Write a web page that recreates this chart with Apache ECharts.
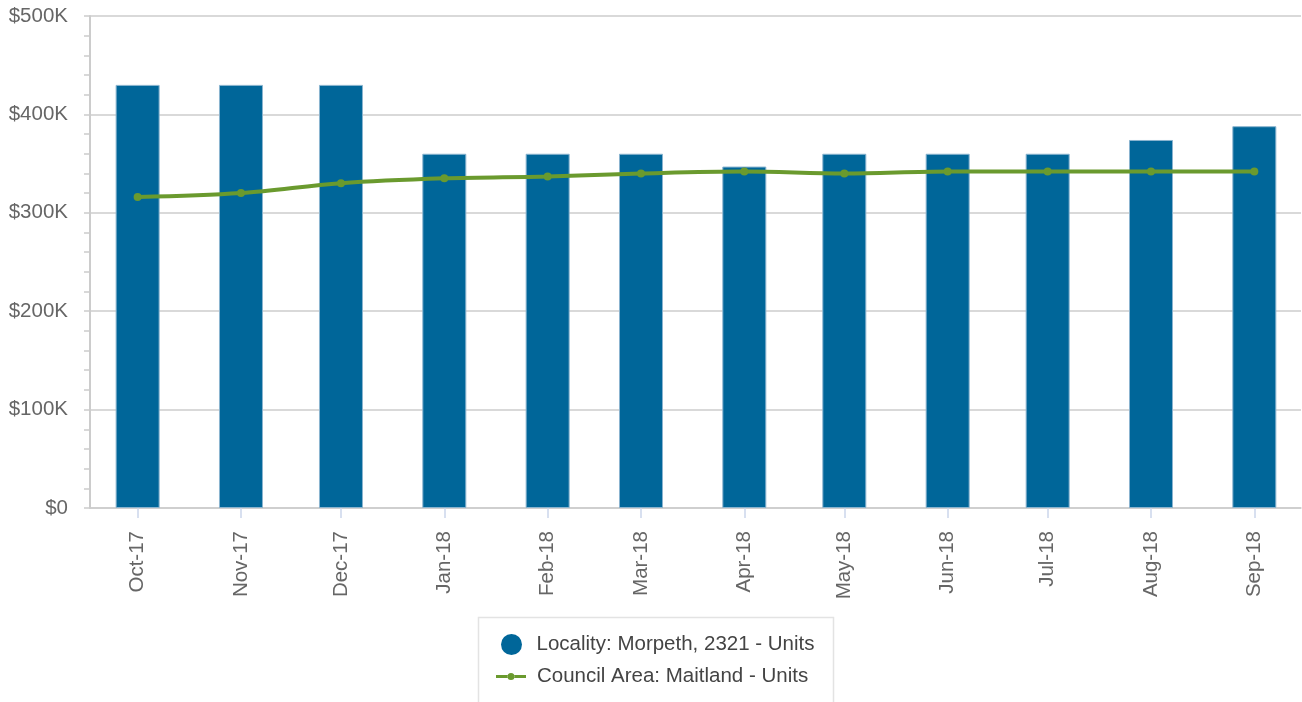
<!DOCTYPE html>
<html>
<head>
<meta charset="utf-8">
<title>Morpeth units median price</title>
<script src="https://cdn.jsdelivr.net/npm/echarts@6/dist/echarts.min.js"></script>
<style>
  html, body { margin: 0; padding: 0; background: #fff; }
  #chart { width: 1302px; height: 702px; }
</style>
</head>
<body>
<div id="chart"></div>
<script>
// months shown on the axis (year, month index)
var months = [
  [2017, 9], [2017, 10], [2017, 11], [2018, 0], [2018, 1], [2018, 2],
  [2018, 3], [2018, 4], [2018, 5], [2018, 6], [2018, 7], [2018, 8]
];
var monthNames = ['Jan','Feb','Mar','Apr','May','Jun','Jul','Aug','Sep','Oct','Nov','Dec'];

// values, in dollars
var localityValues = [430000, 430000, 430000, 360000, 360000, 360000, 347000, 360000, 360000, 360000, 374000, 388000];
var councilValues = [316000, 320000, 330000, 335000, 337000, 340000, 342000, 340000, 342000, 342000, 342000, 342000];

var localityName = 'Locality: Morpeth, 2321 - Units';
var councilName = 'Council Area: Maitland - Units';

var FONT = '"Liberation Sans", Arial, sans-serif';
var FONT_SIZE = 20.5;
var BLUE = '#006699';
var GREEN = '#6a9a2e';

// axis is in time (ms) so months get their real uneven spacing
var monthTimes = months.map(function (m) { return Date.UTC(m[0], m[1], 1); });

function pair(vals) {
  return vals.map(function (v, i) { return [monthTimes[i], v]; });
}

// legend icon for the line series: stroke pieces either side of a dot
var lineIcon = 'path://M0,9h11.8v3H0z M18.2,9H30v3h-11.8z M11.5,10.5a3.5,3.5 0 1,0 7,0a3.5,3.5 0 1,0 -7,0z';

var chart = echarts.init(document.getElementById('chart'));

var option = {
  animation: false,
  backgroundColor: '#ffffff',
  textStyle: { fontFamily: FONT },
  grid: { left: 90, right: 1, top: 16, bottom: 194, containLabel: false },
  xAxis: {
    type: 'value',
    min: Date.UTC(2017, 8, 16, 17),
    max: Date.UTC(2018, 8, 15),
    splitLine: { show: false },
    axisLine: { lineStyle: { color: '#cccccc', width: 1.5 } },
    axisTick: {
      show: true,
      customValues: monthTimes,
      length: 10,
      lineStyle: { color: '#ccd6eb', width: 1.5 }
    },
    axisLabel: {
      customValues: monthTimes,
      rotate: 90,
      margin: 23,
      color: '#666666',
      fontSize: FONT_SIZE,
      fontFamily: FONT,
      formatter: function (val) {
        var d = new Date(val);
        return monthNames[d.getUTCMonth()] + '-' + String(d.getUTCFullYear()).slice(2);
      }
    }
  },
  yAxis: {
    type: 'value',
    min: 0,
    max: 500000,
    interval: 100000,
    axisLine: { show: true, lineStyle: { color: '#cccccc', width: 2 } },
    axisTick: { show: true, length: 6, lineStyle: { color: '#cccccc', width: 1.5 } },
    minorTick: { show: true, splitNumber: 5, length: 6, lineStyle: { color: '#cccccc', width: 1.5 } },
    splitLine: { show: true, lineStyle: { color: '#cccccc', width: 1.5 } },
    axisLabel: {
      margin: 22,
      color: '#666666',
      fontSize: FONT_SIZE,
      fontFamily: FONT,
      formatter: function (v) { return v === 0 ? '$0' : '$' + (v / 1000) + 'K'; }
    }
  },
  // frame around the two legend rows
  graphic: [{
    type: 'rect',
    silent: true,
    shape: { x: 478.5, y: 617.5, width: 355, height: 100 },
    style: { fill: 'none', stroke: '#e3e3e3', lineWidth: 1.5 }
  }],
  legend: [
    {
      left: 501,
      top: 634,
      padding: 0,
      itemWidth: 30,
      itemHeight: 21,
      textStyle: { color: '#444444', fontSize: FONT_SIZE, fontFamily: FONT, padding: [0, 0, 0, 5] },
      data: [{ name: localityName, icon: 'circle', itemStyle: { color: BLUE, borderWidth: 0 } }]
    },
    {
      left: 496,
      top: 666,
      padding: 0,
      itemWidth: 30,
      itemHeight: 21,
      textStyle: { color: '#444444', fontSize: FONT_SIZE, fontFamily: FONT, padding: [0, 0, 0, 6] },
      data: [{ name: councilName, icon: lineIcon, itemStyle: { color: GREEN, borderWidth: 0 } }]
    }
  ],
  series: [
    {
      name: localityName,
      type: 'bar',
      barWidth: 44,
      data: pair(localityValues),
      itemStyle: { color: BLUE, borderColor: '#8ab4cf', borderWidth: 1 }
    },
    {
      name: councilName,
      type: 'line',
      data: pair(councilValues),
      smooth: 0.35,
      symbol: 'circle',
      symbolSize: 8,
      lineStyle: { color: GREEN, width: 4 },
      itemStyle: { color: GREEN }
    }
  ]
};

chart.setOption(option);
</script>
</body>
</html>
